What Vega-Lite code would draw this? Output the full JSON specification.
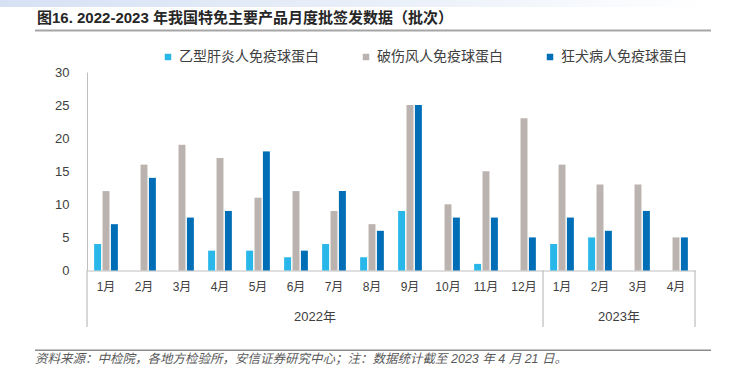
{
  "$schema": "https://vega.github.io/schema/vega-lite/v6.json",
  "autosize": "none",
  "width": 608,
  "height": 198.5,
  "padding": {"left": 87, "top": 72, "right": 41, "bottom": 111.5},
  "background": "#ffffff",
  "config": {
    "font": "Liberation Sans, Noto Sans CJK SC",
    "view": {"stroke": null}
  },
  "resolve": {"axis": {"x": "independent", "y": "independent"}},
  "datasets": {
    "bars": [
      {"p": "2022年1月", "s": "乙型肝炎人免疫球蛋白", "v": 4},
      {"p": "2022年1月", "s": "破伤风人免疫球蛋白", "v": 12},
      {"p": "2022年1月", "s": "狂犬病人免疫球蛋白", "v": 7},
      {"p": "2022年2月", "s": "乙型肝炎人免疫球蛋白", "v": 0},
      {"p": "2022年2月", "s": "破伤风人免疫球蛋白", "v": 16},
      {"p": "2022年2月", "s": "狂犬病人免疫球蛋白", "v": 14},
      {"p": "2022年3月", "s": "乙型肝炎人免疫球蛋白", "v": 0},
      {"p": "2022年3月", "s": "破伤风人免疫球蛋白", "v": 19},
      {"p": "2022年3月", "s": "狂犬病人免疫球蛋白", "v": 8},
      {"p": "2022年4月", "s": "乙型肝炎人免疫球蛋白", "v": 3},
      {"p": "2022年4月", "s": "破伤风人免疫球蛋白", "v": 17},
      {"p": "2022年4月", "s": "狂犬病人免疫球蛋白", "v": 9},
      {"p": "2022年5月", "s": "乙型肝炎人免疫球蛋白", "v": 3},
      {"p": "2022年5月", "s": "破伤风人免疫球蛋白", "v": 11},
      {"p": "2022年5月", "s": "狂犬病人免疫球蛋白", "v": 18},
      {"p": "2022年6月", "s": "乙型肝炎人免疫球蛋白", "v": 2},
      {"p": "2022年6月", "s": "破伤风人免疫球蛋白", "v": 12},
      {"p": "2022年6月", "s": "狂犬病人免疫球蛋白", "v": 3},
      {"p": "2022年7月", "s": "乙型肝炎人免疫球蛋白", "v": 4},
      {"p": "2022年7月", "s": "破伤风人免疫球蛋白", "v": 9},
      {"p": "2022年7月", "s": "狂犬病人免疫球蛋白", "v": 12},
      {"p": "2022年8月", "s": "乙型肝炎人免疫球蛋白", "v": 2},
      {"p": "2022年8月", "s": "破伤风人免疫球蛋白", "v": 7},
      {"p": "2022年8月", "s": "狂犬病人免疫球蛋白", "v": 6},
      {"p": "2022年9月", "s": "乙型肝炎人免疫球蛋白", "v": 9},
      {"p": "2022年9月", "s": "破伤风人免疫球蛋白", "v": 25},
      {"p": "2022年9月", "s": "狂犬病人免疫球蛋白", "v": 25},
      {"p": "2022年10月", "s": "乙型肝炎人免疫球蛋白", "v": 0},
      {"p": "2022年10月", "s": "破伤风人免疫球蛋白", "v": 10},
      {"p": "2022年10月", "s": "狂犬病人免疫球蛋白", "v": 8},
      {"p": "2022年11月", "s": "乙型肝炎人免疫球蛋白", "v": 1},
      {"p": "2022年11月", "s": "破伤风人免疫球蛋白", "v": 15},
      {"p": "2022年11月", "s": "狂犬病人免疫球蛋白", "v": 8},
      {"p": "2022年12月", "s": "乙型肝炎人免疫球蛋白", "v": 0},
      {"p": "2022年12月", "s": "破伤风人免疫球蛋白", "v": 23},
      {"p": "2022年12月", "s": "狂犬病人免疫球蛋白", "v": 5},
      {"p": "2023年1月", "s": "乙型肝炎人免疫球蛋白", "v": 4},
      {"p": "2023年1月", "s": "破伤风人免疫球蛋白", "v": 16},
      {"p": "2023年1月", "s": "狂犬病人免疫球蛋白", "v": 8},
      {"p": "2023年2月", "s": "乙型肝炎人免疫球蛋白", "v": 5},
      {"p": "2023年2月", "s": "破伤风人免疫球蛋白", "v": 13},
      {"p": "2023年2月", "s": "狂犬病人免疫球蛋白", "v": 6},
      {"p": "2023年3月", "s": "乙型肝炎人免疫球蛋白", "v": 0},
      {"p": "2023年3月", "s": "破伤风人免疫球蛋白", "v": 13},
      {"p": "2023年3月", "s": "狂犬病人免疫球蛋白", "v": 9},
      {"p": "2023年4月", "s": "乙型肝炎人免疫球蛋白", "v": 0},
      {"p": "2023年4月", "s": "破伤风人免疫球蛋白", "v": 5},
      {"p": "2023年4月", "s": "狂犬病人免疫球蛋白", "v": 5}
    ]
  },
  "layer": [
    {
      "data": {"name": "bars"},
      "mark": {"type": "bar"},
      "encoding": {
        "x": {
          "field": "p", "type": "nominal",
          "scale": {"domain": ["2022年1月","2022年2月","2022年3月","2022年4月","2022年5月","2022年6月","2022年7月","2022年8月","2022年9月","2022年10月","2022年11月","2022年12月","2023年1月","2023年2月","2023年3月","2023年4月"], "paddingInner": 0, "paddingOuter": 0},
          "axis": {
            "title": null, "labelAngle": 0, "ticks": false,
            "labelExpr": "substring(datum.label, 5)",
            "labelFontSize": 12, "labelColor": "#404040", "labelPadding": 11,
            "domainColor": "#d4d4d4", "domainWidth": 1.5
          }
        },
        "xOffset": {
          "field": "s", "type": "nominal",
          "scale": {"domain": ["乙型肝炎人免疫球蛋白", "破伤风人免疫球蛋白", "狂犬病人免疫球蛋白"], "paddingInner": 0.17, "paddingOuter": 0.85}
        },
        "y": {
          "field": "v", "type": "quantitative",
          "scale": {"domain": [0, 30], "nice": false},
          "axis": {
            "title": null, "values": [0, 5, 10, 15, 20, 25, 30], "grid": false, "ticks": false,
            "labelOverlap": false,
            "labelFontSize": 13, "labelColor": "#404040", "labelPadding": 18,
            "domainColor": "#bfbfbf", "domainWidth": 1
          }
        },
        "color": {
          "field": "s", "type": "nominal",
          "scale": {"domain": ["乙型肝炎人免疫球蛋白", "破伤风人免疫球蛋白", "狂犬病人免疫球蛋白"], "range": ["#29b6e8", "#bab3b0", "#006eb6"]},
          "legend": {
            "title": null, "orient": "none", "direction": "horizontal",
            "legendX": 74, "legendY": -22,
            "symbolType": "square", "symbolSize": 42, "symbolStrokeWidth": 0,
            "labelFontSize": 14, "labelColor": "#404040", "labelOffset": 4,
            "columnPadding": 40, "labelLimit": 300
          }
        }
      }
    },
    {
      "data": {"values": [{}]},
      "mark": {"type": "rect", "color": {"gradient": "linear", "x1": 0, "y1": 0, "x2": 1, "y2": 0, "stops": [{"offset": 0, "color": "#d6e1f4"}, {"offset": 0.55, "color": "#eaf0f9"}, {"offset": 1, "color": "#ffffff"}]}},
      "encoding": {
        "x": {"datum": "2022年1月", "type": "nominal", "bandPosition": -2.289, "axis": null},
        "x2": {"datum": "2023年4月", "bandPosition": 1.421},
        "y": {"datum": 40.88, "type": "quantitative", "axis": null},
        "y2": {"datum": 39.82}
      }
    },
    {
      "data": {"values": [{}]},
      "mark": {"type": "rule", "color": "#a6a6a6", "strokeWidth": 2},
      "encoding": {
        "x": {"datum": "2022年1月", "type": "nominal", "bandPosition": -1.368, "axis": null},
        "x2": {"datum": "2023年4月", "bandPosition": 1.421},
        "y": {"datum": 36.27, "type": "quantitative", "axis": null}
      }
    },
    {
      "data": {"values": [{"t": "图16. 2022-2023 年我国特免主要产品月度批签发数据（批次）"}]},
      "mark": {"type": "text", "align": "left", "baseline": "middle", "fontSize": 15, "fontWeight": "bold", "color": "#262626"},
      "encoding": {
        "x": {"datum": "2022年1月", "type": "nominal", "bandPosition": -1.316, "axis": null},
        "y": {"datum": 38.16, "type": "quantitative", "axis": null},
        "text": {"field": "t"}
      }
    },
    {
      "data": {"values": [{}]},
      "mark": {"type": "rule", "color": "#b0b0b0", "strokeWidth": 1},
      "encoding": {
        "x": {"datum": "2022年1月", "type": "nominal", "bandPosition": 0, "axis": null},
        "y": {"datum": 0, "type": "quantitative", "axis": null},
        "y2": {"datum": -8.54}
      }
    },
    {
      "data": {"values": [{}]},
      "mark": {"type": "rule", "color": "#b0b0b0", "strokeWidth": 1},
      "encoding": {
        "x": {"datum": "2023年1月", "type": "nominal", "bandPosition": 0, "axis": null},
        "y": {"datum": 0, "type": "quantitative", "axis": null},
        "y2": {"datum": -8.54}
      }
    },
    {
      "data": {"values": [{}]},
      "mark": {"type": "rule", "color": "#b0b0b0", "strokeWidth": 1},
      "encoding": {
        "x": {"datum": "2023年4月", "type": "nominal", "bandPosition": 1, "axis": null},
        "y": {"datum": 0, "type": "quantitative", "axis": null},
        "y2": {"datum": -8.54}
      }
    },
    {
      "data": {"values": [{"label": "2022年"}]},
      "mark": {"type": "text", "align": "center", "baseline": "middle", "fontSize": 13, "color": "#404040"},
      "encoding": {
        "x": {"datum": "2022年6月", "type": "nominal", "bandPosition": 1, "axis": null},
        "y": {"datum": -7.05, "type": "quantitative", "axis": null},
        "text": {"field": "label"}
      }
    },
    {
      "data": {"values": [{"label": "2023年"}]},
      "mark": {"type": "text", "align": "center", "baseline": "middle", "fontSize": 13, "color": "#404040"},
      "encoding": {
        "x": {"datum": "2023年2月", "type": "nominal", "bandPosition": 1, "axis": null},
        "y": {"datum": -7.05, "type": "quantitative", "axis": null},
        "text": {"field": "label"}
      }
    },
    {
      "data": {"values": [{}]},
      "mark": {"type": "rule", "color": "#8c8c8c", "strokeWidth": 1.5},
      "encoding": {
        "x": {"datum": "2022年1月", "type": "nominal", "bandPosition": -1.368, "axis": null},
        "x2": {"datum": "2023年4月", "bandPosition": 1.421},
        "y": {"datum": -12.04, "type": "quantitative", "axis": null}
      }
    },
    {
      "data": {"values": [{"t": "资料来源：中检院，各地方检验所，安信证券研究中心；注：数据统计截至 2023 年 4 月 21 日。"}]},
      "mark": {"type": "text", "align": "left", "baseline": "middle", "fontSize": 12.5, "fontStyle": "italic", "color": "#595959"},
      "encoding": {
        "x": {"datum": "2022年1月", "type": "nominal", "bandPosition": -1.368, "axis": null},
        "y": {"datum": -13.37, "type": "quantitative", "axis": null},
        "text": {"field": "t"}
      }
    }
  ]
}
